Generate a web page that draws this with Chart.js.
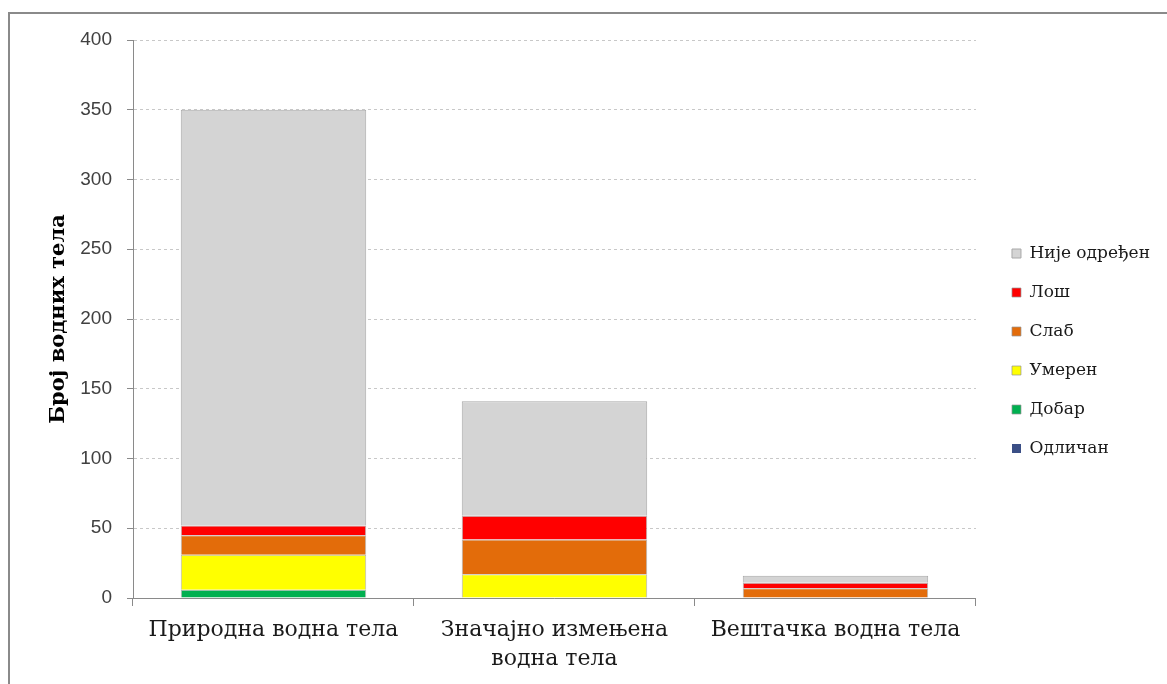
<!DOCTYPE html>
<html lang="sr">
<head>
    <meta charset="UTF-8">
    <meta name="viewport" content="width=device-width, initial-scale=1.0">
    <title>Број водних тела</title>
    <script src="https://cdn.jsdelivr.net/npm/chart.js"></script>
    <style>
        body {
            margin: 0;
            background-color: #ffffff;
            overflow: hidden;
        }

        .frame {
            position: absolute;
            left: 8px;
            top: 12px;
            width: 1300px;
            height: 800px;
            border-left: 2px solid #8a8a8a;
            border-top: 2px solid #8a8a8a;
        }

        .container {
            position: absolute;
            left: 0;
            top: 0;
            width: 1167px;
            height: 684px;
        }
    </style>
</head>
<body>
    <div class="frame"></div>
    <div class="container">
        <canvas id="statusChart"></canvas>
    </div>

    <script>
        const categories = ['Природна водна тела', ['Значајно измењена', 'водна тела'], 'Вештачка водна тела'];

        // број водних тела по статусу
        const odlican = [0, 0, 0];
        const dobar = [6, 0, 0];
        const umeren = [25, 17, 0];
        const slab = [14, 25, 7];
        const los = [7, 17, 4];
        const nijeOdredjen = [298, 82, 5];

        const yMax = 400;
        const yStep = 50;

        const segBorder = 'rgba(150, 150, 150, 0.7)';

        const ctx = document.getElementById('statusChart').getContext('2d');
        new Chart(ctx, {
            type: 'bar',
            data: {
                labels: categories,
                datasets: [
                    { label: 'Одличан', data: odlican, backgroundColor: '#3b4f86', borderWidth: 0 },
                    { label: 'Добар', data: dobar, backgroundColor: '#00b050', borderColor: segBorder, borderWidth: 1 },
                    { label: 'Умерен', data: umeren, backgroundColor: '#ffff00', borderColor: segBorder, borderWidth: 1 },
                    { label: 'Слаб', data: slab, backgroundColor: '#e36c0a', borderColor: segBorder, borderWidth: 1 },
                    { label: 'Лош', data: los, backgroundColor: '#ff0000', borderColor: segBorder, borderWidth: 1 },
                    { label: 'Није одређен', data: nijeOdredjen, backgroundColor: '#d4d4d4', borderColor: '#a8a8a8', borderWidth: 1 }
                ]
            },
            options: {
                responsive: true,
                maintainAspectRatio: false,
                animation: false,
                barPercentage: 0.66,
                categoryPercentage: 1,
                layout: {
                    padding: { left: 0, top: 40, right: 7, bottom: 0 }
                },
                plugins: {
                    tooltip: { enabled: false },
                    legend: {
                        position: 'right',
                        fullSize: false,
                        reverse: true,
                        // празан наслов само спушта ставке легенде
                        title: {
                            display: true,
                            text: '',
                            padding: { top: 0, bottom: 52 },
                            font: { size: 10 }
                        },
                        labels: {
                            boxWidth: 9,
                            boxHeight: 9,
                            padding: 22,
                            color: '#1a1a1a',
                            font: { family: 'DejaVu Serif', size: 17 }
                        }
                    }
                },
                scales: {
                    x: {
                        stacked: true,
                        afterFit: (scale) => { scale.height = 86; },
                        grid: {
                            drawOnChartArea: false,
                            drawTicks: true,
                            tickLength: 8,
                            tickColor: '#8a8a8a'
                        },
                        border: { color: '#8a8a8a', width: 1 },
                        ticks: {
                            color: '#1a1a1a',
                            padding: 10,
                            maxRotation: 0,
                            autoSkip: false,
                            font: { family: 'DejaVu Serif', size: 22, lineHeight: 1.3 }
                        }
                    },
                    y: {
                        stacked: true,
                        min: 0,
                        max: yMax,
                        afterFit: (scale) => { scale.width = 133; },
                        grid: {
                            color: '#c8c8c8',
                            tickLength: 6,
                            tickColor: '#8a8a8a',
                            tickBorderDash: []
                        },
                        border: { color: '#8a8a8a', width: 1, dash: [3, 3] },
                        ticks: {
                            stepSize: yStep,
                            color: '#404040',
                            padding: 15,
                            font: { family: 'Liberation Sans', size: 19 }
                        },
                        title: {
                            display: true,
                            text: 'Број водних тела',
                            color: '#000000',
                            padding: { top: 46, bottom: 4 },
                            font: { family: 'DejaVu Serif', size: 21, weight: 'bold' }
                        }
                    },
                    gap: {
                        type: 'linear',
                        position: 'right',
                        afterFit: (scale) => { scale.width = 14; },
                        grid: { display: false },
                        border: { display: false },
                        ticks: { display: false }
                    }
                }
            }
        });
    </script>
</body>
</html>
